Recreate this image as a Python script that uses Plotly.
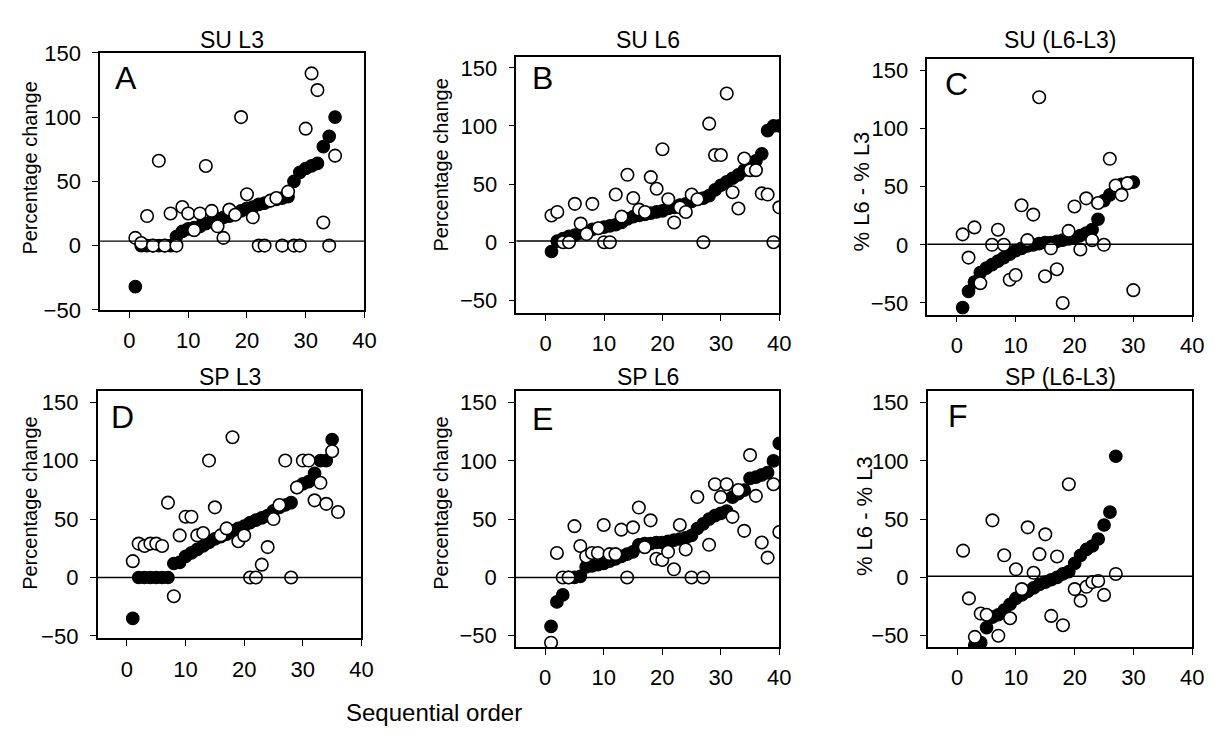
import plotly.graph_objects as go

# ---------------- data ----------------
titles = ["SU L3", "SU L6", "SU (L6-L3)", "SP L3", "SP L6", "SP (L6-L3)"]
letters = ["A", "B", "C", "D", "E", "F"]
ytitles = ["Percentage change", "Percentage change", "% L6 - % L3",
           "Percentage change", "Percentage change", "% L6 - % L3"]
x_ticks = [0, 10, 20, 30, 40]
y_ticks = [-50, 0, 50, 100, 150]
baseline = [3.5, 1, 0.5, 0, 0, 1]

su_l3_filled = [-32, 0, 0, 0, 0, 0, 0, 7, 11, 13, 14, 15, 17, 19, 21, 22, 23, 25, 27, 29,
                30, 32, 33, 35, 36, 37, 38, 50, 57, 60, 62, 64, 77, 85, 100]
su_l3_open = [6, 2, 23, 0, 66, 0, 25, 0, 30, 25, 12, 25, 62, 27, 15, 6, 28, 24, 100, 40,
              22, 0, 0, 35, 37, 0, 42, 0, 0, 91, 134, 121, 18, 0, 70]

su_l6_filled = [-8, 1, 3, 5, 6, 8, 9, 11, 12, 13, 14, 15, 17, 20, 22, 23, 24, 25, 26, 27,
                29, 30, 32, 33, 35, 37, 38, 40, 45, 49, 52, 55, 58, 62, 66, 70, 76, 96, 100, 100]
su_l6_open = [23, 26, 0, 0, 33, 16, 7, 33, 12, 0, 0, 41, 22, 58, 38, 28, 26, 56, 46, 80,
              37, 17, 30, 26, 41, 37, 0, 102, 75, 75, 128, 43, 29, 72, 62, 62, 42, 41, 0, 30]

su_diff_filled = [-54, -40, -32, -24, -20, -17, -14, -11, -8, -5, -3, -1, 0, 1, 2, 2, 3, 4, 5, 6,
                  8, 10, 13, 22, 38, 43, 50, 52, 53, 54]
su_diff_open = [9, -11, 15, -33, None, 0, 13, 0, -30, -26, 34, 4, 26, 127, -27, -3, -21, -50, 12, 33,
                -4, 40, 4, 36, 0, 74, 51, 43, 53, -39]

sp_l3_filled = [-35, 0, 0, 0, 0, 0, 0, 12, 13, 18, 21, 24, 27, 30, 33, 35, 37, 40, 42, 44,
                47, 49, 51, 53, 57, 60, 62, 64, 77, 80, 82, 89, 100, 100, 118]
sp_l3_open = [14, 29, 27, 29, 29, 27, 64, -16, 36, 52, 52, 36, 38, 100, 60, 36, 42, 120, 31, 36,
              0, 0, 11, 26, 50, 62, 100, 0, 77, 100, 100, 66, 81, 63, 108, 56]

sp_l6_filled = [-42, -21, -15, 0, 0, 1, 9, 10, 11, 12, 14, 16, 18, 20, 22, 28, 29, 29, 30, 30,
                31, 32, 33, 34, 36, 42, 46, 50, 53, 55, 57, 69, 72, 75, 85, 86, 88, 90, 100, 115]
sp_l6_open = [-56, 21, 0, 0, 44, 27, 18, 21, 21, 45, 20, 20, 41, 0, 43, 60, 26, 49, 16, 15,
              22, 7, 45, 24, 0, 69, 0, 28, 80, 69, 80, 52, 75, 40, 105, 70, 30, 17, 80, 39]

sp_diff_filled = [-80, -66, -58, -56, -43, -34, -32, -28, -23, -18, -15, -12, -9, -6, -4, -2, 0, 3, 5, 12,
                  19, 24, 27, 33, 45, 56, 104]
sp_diff_open = [23, -18, -51, -31, -32, 49, -50, 19, -35, 7, -10, 43, 4, 20, 37, -33, 18, -41, 80, -10,
                -20, -8, -4, -3, -15, None, 3]

filled_sets = [su_l3_filled, su_l6_filled, su_diff_filled, sp_l3_filled, sp_l6_filled, sp_diff_filled]
open_sets = [su_l3_open, su_l6_open, su_diff_open, sp_l3_open, sp_l6_open, sp_diff_open]

# ---------------- layout geometry (pixels) ----------------
W, H = 1215, 738
boxes = [  # left, right, top, bottom (px)
    (93, 360, 34, 300),
    (513.5, 779, 38, 303),
    (928.5, 1196, 40, 305),
    (90.5, 357, 384, 640),
    (513, 779, 384, 649),
    (929, 1196, 384, 649),
]
y_ranges = [(-50, 150), (-60.7, 159.6), (-60.1, 160.2), (-52, 159.5), (-59.7, 160), (-59.7, 160)]
x_range = (-5, 40)
title_y = [21, 21, 21, 369, 369, 369]
ytitle_pos = [(22, 153), (437, 150), (862, 177), (22, 500), (437, 500), (865, 513)]
letter_pos = [(106, 60), (527, 60.5), (944, 66), (102, 411), (527, 413), (947, 410)]

FONT = "Liberation Sans, Arial, sans-serif"
fig = go.Figure()
annotations = []
shapes = []
layout = dict(width=W, height=H, margin=dict(l=0, r=0, t=0, b=0),
              paper_bgcolor="white", plot_bgcolor="white", showlegend=False,
              font=dict(family=FONT, color="black"))

for i in range(6):
    sfx = "" if i == 0 else str(i + 1)
    xa, ya = "x" + sfx, "y" + sfx
    l, r, t, b = boxes[i]
    fvals, ovals = filled_sets[i], open_sets[i]
    fig.add_trace(go.Scatter(x=list(range(1, len(fvals) + 1)), y=fvals, mode="markers",
                             xaxis=xa, yaxis=ya,
                             marker=dict(size=12.5, color="black", line=dict(color="black", width=1.2))))
    fig.add_trace(go.Scatter(x=list(range(1, len(ovals) + 1)), y=ovals, mode="markers",
                             xaxis=xa, yaxis=ya,
                             marker=dict(size=12.5, color="white", line=dict(color="black", width=1.6))))
    common = dict(showline=True, linecolor="black", linewidth=1.6, mirror=True,
                  ticks="outside", ticklen=6, tickwidth=1.4, tickcolor="black",
                  showgrid=False, zeroline=False,
                  tickfont=dict(family=FONT, size=22, color="black"))
    layout["xaxis" + sfx] = dict(common, domain=[l / W, r / W], range=list(x_range),
                                 tickvals=x_ticks, anchor=ya, ticklabelstandoff=4)
    layout["yaxis" + sfx] = dict(common, domain=[1 - b / H, 1 - t / H], range=list(y_ranges[i]),
                                 tickvals=y_ticks, anchor=xa, ticklabelstandoff=7)
    shapes.append(dict(type="line", xref=xa + " domain", yref=ya, x0=0, x1=1,
                       y0=baseline[i], y1=baseline[i], line=dict(color="black", width=1.4)))
    annotations.append(dict(text=titles[i], xref="paper", yref="paper", x=(l + r) / 2 / W,
                            y=1 - title_y[i] / H, xanchor="center", yanchor="middle", showarrow=False,
                            font=dict(family=FONT, size=23, color="black")))
    lx, ly = letter_pos[i]
    annotations.append(dict(text=letters[i], xref="paper", yref="paper", x=lx / W,
                            y=1 - ly / H, xanchor="left", yanchor="middle", showarrow=False,
                            font=dict(family=FONT, size=32, color="black")))
    tx, ty = ytitle_pos[i]
    annotations.append(dict(text=ytitles[i], xref="paper", yref="paper", x=tx / W,
                            y=1 - ty / H, xanchor="center", yanchor="middle",
                            textangle=-90, showarrow=False,
                            font=dict(family=FONT, size=20 if i not in (2, 5) else 22, color="black")))

annotations.append(dict(text="Sequential order", xref="paper", yref="paper", x=430 / W, y=1 - 717 / H,
                        xanchor="center", yanchor="middle", showarrow=False,
                        font=dict(family=FONT, size=24, color="black")))
layout["annotations"] = annotations
layout["shapes"] = shapes
fig.update_layout(**layout)
fig.write_html("out.html")
